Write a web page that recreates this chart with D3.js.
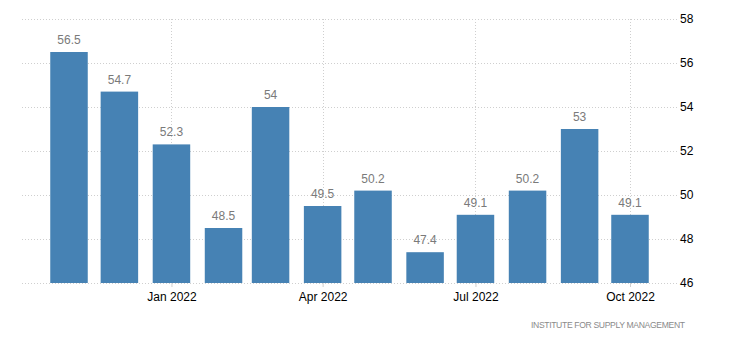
<!DOCTYPE html>
<html><head><meta charset="utf-8">
<script src="https://cdn.jsdelivr.net/npm/d3@7"></script>
<style>body{margin:0;background:#fff}svg{display:block;font-family:Arial,"Liberation Sans",sans-serif}</style>
</head><body><svg id="c" width="730" height="350"></svg>
<script>
const months = ["2021-11","2021-12","2022-01","2022-02","2022-03","2022-04","2022-05","2022-06","2022-07","2022-08","2022-09","2022-10"];
const values = [56.5,54.7,52.3,48.5,54,49.5,50.2,47.4,49.1,50.2,53,49.1];
const yTicks = [46,48,50,52,54,56,58];
const xTickMonths = ["2022-01","2022-04","2022-07","2022-10"];
const xTickLabels = ["Jan 2022","Apr 2022","Jul 2022","Oct 2022"];
const source = "INSTITUTE FOR SUPPLY MANAGEMENT";

const parse = d3.timeParse("%Y-%m");
const dates = months.map(parse);
const svg = d3.select("#c");
const mLeft = 22, mRight = 677, mTop = 19, mBottom = 283;
const x = d3.scaleTime().domain([parse("2021-11"), parse("2022-10")]).range([69, 630]);
const y = d3.scaleLinear().domain([46, 58]).range([mBottom, mTop]);
const bw = 37.5;

// horizontal grid
svg.append("g").selectAll("line").data(yTicks).join("line")
  .attr("x1", mLeft).attr("x2", mRight)
  .attr("y1", d => Math.round(y(d)) + 0.5).attr("y2", d => Math.round(y(d)) + 0.5)
  .attr("stroke", "#cfcfcf").attr("stroke-dasharray", "1,2");
// vertical grid
svg.append("g").selectAll("line").data(xTickMonths).join("line")
  .attr("x1", d => Math.round(x(parse(d))) + 0.5).attr("x2", d => Math.round(x(parse(d))) + 0.5)
  .attr("y1", mTop).attr("y2", mBottom)
  .attr("stroke", "#cfcfcf").attr("stroke-dasharray", "1,2");

// bars
svg.append("g").selectAll("rect").data(values).join("rect")
  .attr("x", (d, i) => x(dates[i]) - bw / 2)
  .attr("width", bw)
  .attr("y", d => y(d))
  .attr("height", d => y(46) - y(d))
  .attr("fill", "#4682b4");

// value labels
svg.append("g").selectAll("text").data(values).join("text")
  .attr("x", (d, i) => x(dates[i]))
  .attr("y", d => y(d) - 8)
  .attr("text-anchor", "middle")
  .attr("font-size", 12)
  .attr("fill", "#7a7a7a")
  .text(d => d);

// x axis
const xAxis = d3.axisBottom(x)
  .tickValues(xTickMonths.map(parse))
  .tickFormat((d, i) => xTickLabels[i])
  .tickSize(4).tickSizeOuter(0);
const gx = svg.append("g").attr("transform", `translate(0,${mBottom})`).call(xAxis);
gx.select(".domain").remove();
gx.selectAll("line").attr("stroke", "#cfcfcf");
gx.selectAll("text").attr("font-size", 12).attr("fill", "#000").attr("font-family", "Arial, 'Liberation Sans', sans-serif").attr("dy", "0.95em");

// y axis
const yAxis = d3.axisRight(y).tickValues(yTicks).tickSize(0).tickPadding(0);
const gy = svg.append("g").attr("transform", `translate(680,0)`).call(yAxis);
gy.select(".domain").remove();
gy.selectAll("text").attr("font-size", 12).attr("fill", "#000").attr("font-family", "Arial, 'Liberation Sans', sans-serif");

// source
svg.append("text").attr("x", 531).attr("y", 328)
  .attr("font-size", 8.6).attr("textLength", 154).attr("lengthAdjust", "spacing")
  .attr("fill", "#8a8a8a").text(source);
</script></body></html>
